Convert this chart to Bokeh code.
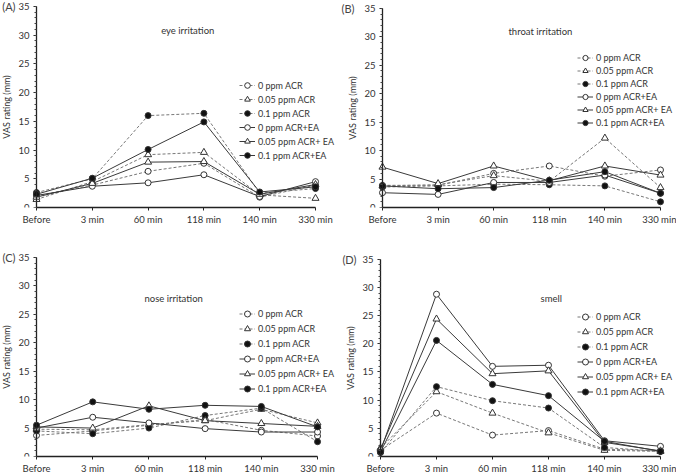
from bokeh.plotting import figure
from bokeh.layouts import gridplot
from bokeh.models import Range1d, FixedTicker, Legend, LegendItem, Label, ColumnDataSource
from bokeh.embed import file_html
from bokeh.resources import INLINE

FONT = "Lato"

time_labels = ["Before", "3 min", "60 min", "118 min", "140 min", "330 min"]
series_names = ["0 ppm ACR", "0.05 ppm ACR", "0.1 ppm ACR",
                "0 ppm ACR+EA", "0.05 ppm ACR+ EA", "0.1 ppm ACR+EA"]
y_ticks = [0, 5, 10, 15, 20, 25, 30, 35]

# (A) eye irritation
eye_0_acr = [2.0, 3.9, 6.3, 7.7, 1.8, 3.9]
eye_005_acr = [1.4, 4.5, 9.2, 9.6, 2.2, 1.6]
eye_01_acr = [2.6, 5.0, 16.0, 16.4, 2.5, 3.3]
eye_0_ea = [2.1, 3.7, 4.3, 5.7, 1.9, 4.5]
eye_005_ea = [1.8, 4.2, 7.9, 8.0, 2.3, 4.0]
eye_01_ea = [2.3, 5.1, 10.1, 14.9, 2.7, 3.6]

# (B) throat irritation
throat_0_acr = [3.9, 3.9, 6.0, 7.3, 5.5, 6.6]
throat_005_acr = [3.8, 4.0, 5.6, 4.6, 12.2, 3.5]
throat_01_acr = [3.6, 3.8, 4.1, 4.0, 3.8, 1.0]
throat_0_ea = [2.6, 2.3, 4.4, 4.4, 5.7, 2.5]
throat_005_ea = [7.1, 4.2, 7.3, 4.7, 7.3, 5.7]
throat_01_ea = [3.8, 3.3, 3.5, 4.8, 6.3, 2.5]

# (C) nose irritation
nose_0_acr = [3.7, 4.5, 5.5, 6.5, 4.6, 3.6]
nose_005_acr = [4.8, 4.7, 5.6, 6.3, 8.3, 5.9]
nose_01_acr = [4.5, 4.0, 5.0, 7.2, 8.5, 2.6]
nose_0_ea = [5.0, 6.9, 5.9, 4.9, 4.3, 4.3]
nose_005_ea = [5.2, 5.0, 8.9, 6.3, 5.8, 5.3]
nose_01_ea = [5.5, 9.6, 8.3, 9.0, 8.8, 5.2]

# (D) smell
smell_0_acr = [1.1, 7.7, 3.8, 4.6, 1.3, 1.0]
smell_005_acr = [1.5, 11.5, 7.7, 4.2, 1.1, 0.9]
smell_01_acr = [0.7, 12.4, 9.9, 8.6, 1.6, 0.9]
smell_0_ea = [1.0, 28.8, 16.0, 16.2, 2.8, 1.8]
smell_005_ea = [1.3, 24.4, 14.7, 15.2, 2.5, 1.0]
smell_01_ea = [0.8, 20.6, 12.8, 10.8, 2.7, 0.9]

styles = [
    dict(dash="3 2", marker="circle", fill="white", lc="#777777", size=6),
    dict(dash="3 2", marker="triangle", fill="white", lc="#777777", size=7),
    dict(dash="3 2", marker="circle", fill="#111111", lc="#777777", size=6),
    dict(dash="solid", marker="circle", fill="white", lc="#3a3a3a", size=6),
    dict(dash="solid", marker="triangle", fill="white", lc="#3a3a3a", size=7),
    dict(dash="solid", marker="circle", fill="#111111", lc="#3a3a3a", size=6),
]


def make_panel(tag, title, series, title_x, title_y, width, height, x_start, x_end,
               y_end, bb, leg_x, leg_y, pitch, tag_x):
    p = figure(width=width, height=height, output_backend="svg", toolbar_location=None,
               x_range=Range1d(x_start, x_end), y_range=Range1d(0, y_end),
               min_border_left=0, min_border_right=0, min_border_top=0, min_border_bottom=bb)
    p.outline_line_color = None
    p.xgrid.grid_line_color = None
    p.ygrid.grid_line_color = None
    p.background_fill_color = "white"
    p.border_fill_color = "white"

    xs = list(range(len(time_labels)))
    items = []
    for name, vals, st in zip(series_names, series, styles):
        src = ColumnDataSource(dict(x=xs, y=vals))
        ln = p.line("x", "y", source=src, line_color=st["lc"], line_width=1,
                    line_dash=st["dash"])
        sc = p.scatter("x", "y", source=src, marker=st["marker"], size=st["size"],
                       fill_color=st["fill"], line_color="#333333", line_width=1)
        items.append(LegendItem(label=name, renderers=[ln, sc]))

    # axes
    p.xaxis.ticker = FixedTicker(ticks=xs)
    p.xaxis.major_label_overrides = {i: t for i, t in enumerate(time_labels)}
    p.xaxis.bounds = (0, 5)
    p.yaxis.ticker = FixedTicker(ticks=y_ticks, minor_ticks=list(range(0, 36)))
    p.yaxis.bounds = (0, 35)
    p.yaxis.fixed_location = 0
    for ax in (p.xaxis[0], p.yaxis[0]):
        ax.axis_line_color = "#222222"
        ax.axis_line_width = 1.3
        ax.major_tick_line_color = "#222222"
        ax.major_tick_in = 0
        ax.major_tick_out = 3
        ax.major_label_text_font = FONT
        ax.major_label_text_font_size = "9.5px"
        ax.major_label_text_color = "#333333"
        ax.major_label_standoff = 3
    p.yaxis.major_label_standoff = 4
    p.xaxis.minor_tick_line_color = None
    p.yaxis.minor_tick_line_color = "#444444"
    p.yaxis.minor_tick_in = 0
    p.yaxis.minor_tick_out = 2
    p.yaxis.axis_label = "VAS rating (mm)"
    p.yaxis.axis_label_text_font = FONT
    p.yaxis.axis_label_text_font_size = "9px"
    p.yaxis.axis_label_text_font_style = "normal"
    p.yaxis.axis_label_text_color = "#333333"
    p.yaxis.axis_label_standoff = 3

    legend = Legend(items=items, location=(leg_x, leg_y),
                    label_text_font=FONT, label_text_font_size="9px",
                    label_text_color="#333333", glyph_width=16, glyph_height=pitch,
                    label_height=pitch, spacing=0, padding=0, margin=0,
                    label_standoff=3, border_line_color=None,
                    background_fill_alpha=0)
    p.add_layout(legend)

    p.add_layout(Label(x=title_x, y=title_y, text=title, text_align="center",
                       text_baseline="middle", text_font=FONT, text_font_size="9.5px",
                       text_color="#333333"))
    p.add_layout(Label(x=tag_x, y=35, text=tag, text_align="right",
                       text_baseline="middle", text_font=FONT, text_font_size="11px",
                       text_color="#444444"))
    return p


pa = make_panel("(A)", "eye irritation",
                [eye_0_acr, eye_005_acr, eye_01_acr, eye_0_ea, eye_005_ea, eye_01_ea],
                2.71, 30.8, 338, 238, -0.645, 5.412, 36.04, 31, 239, 45, 14, -0.376)
pb = make_panel("(B)", "throat irritation",
                [throat_0_acr, throat_005_acr, throat_01_acr, throat_0_ea, throat_005_ea, throat_01_ea],
                2.84, 31.0, 338, 238, -0.791, 5.288, 36.39, 28, 239, 78, 13, -0.504)
pc = make_panel("(C)", "nose irritation",
                [nose_0_acr, nose_005_acr, nose_01_acr, nose_0_ea, nose_005_ea, nose_01_ea],
                2.44, 27.7, 338, 238, -0.641, 5.373, 38.31, 18, 239, 60, 15, -0.374)
pd_ = make_panel("(D)", "smell",
                 [smell_0_acr, smell_005_acr, smell_01_acr, smell_0_ea, smell_005_ea, smell_01_ea],
                 3.05, 28.1, 338, 238, -0.75, 5.286, 38.69, 18, 239, 57, 15, -0.43)

grid = gridplot([[pa, pb], [pc, pd_]], toolbar_location=None)

open("out.html", "w").write(file_html(grid, INLINE))
